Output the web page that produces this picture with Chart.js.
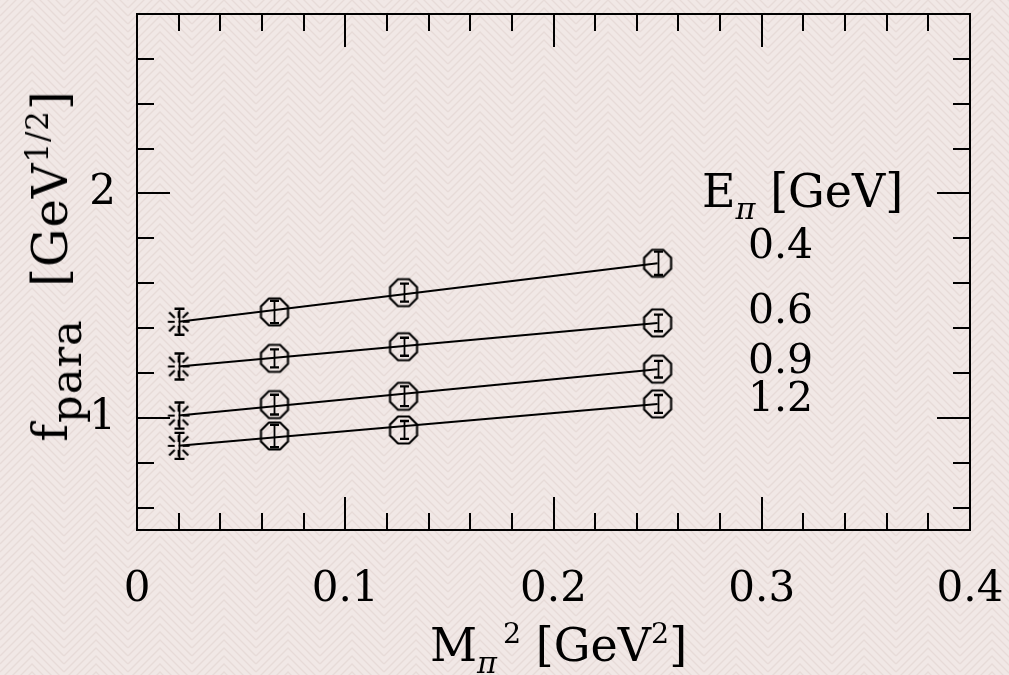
<!DOCTYPE html>
<html>
<head>
<meta charset="utf-8">
<script src="https://cdn.jsdelivr.net/npm/chart.js@4.4.1/dist/chart.umd.min.js"></script>
<style>
  html, body { margin: 0; padding: 0; }
  body {
    width: 1009px; height: 675px; overflow: hidden;
    background-color: #f1e8e6;
    background-image: url("data:image/svg+xml,%3Csvg xmlns='http://www.w3.org/2000/svg' width='64' height='32'%3E%3Cg fill='none' stroke='%23e7dbd8' stroke-width='1.4'%3E%3Cpath d='M0 0 L32 -32 L64 0'/%3E%3Cpath d='M0 8 L32 -24 L64 8'/%3E%3Cpath d='M0 16 L32 -16 L64 16'/%3E%3Cpath d='M0 24 L32 -8 L64 24'/%3E%3Cpath d='M0 32 L32 0 L64 32'/%3E%3Cpath d='M0 40 L32 8 L64 40'/%3E%3Cpath d='M0 48 L32 16 L64 48'/%3E%3Cpath d='M0 56 L32 24 L64 56'/%3E%3Cpath d='M0 64 L32 32 L64 64'/%3E%3C/g%3E%3C/svg%3E");
  }
  #wrap { position: relative; width: 1009px; height: 675px; }
  #plot { position: absolute; left: 0; top: 0; }
  .lbl {
    position: absolute; font-family: 'DejaVu Serif', serif; color: #000;
    line-height: 1; white-space: nowrap;
  }
  .lbl sub { font-size: 0.66em; vertical-align: -0.4em; line-height: 0; }
  .lbl sup { font-size: 0.62em; vertical-align: 0.62em; line-height: 0; }
  #ytitle { letter-spacing: 1px; }
  #ytitle sub { font-size: 0.9em; vertical-align: -0.32em; }
  #ytitle sup { font-size: 0.64em; }
  #xtitle sup.sq { margin-left: 6px; }
</style>
</head>
<body>
<div id="wrap">
  <canvas id="plot" width="1009" height="675"></canvas>
  <div class="lbl" id="ytitle" style="left:50px; top:266px; font-size:48px; transform:translate(-50%,-50%) rotate(-90deg);">f<sub>para</sub>&nbsp;&nbsp;[GeV<sup>1/2</sup>]</div>
  <div class="lbl" id="xtitle" style="left:430px; top:622px; font-size:46px;">M<sub><i>π</i></sub><sup class="sq">2</sup> [GeV<sup>2</sup>]</div>
  <div class="lbl" id="etitle" style="left:702px; top:168px; font-size:46px;">E<sub><i>π</i></sub> [GeV]</div>
  <div id="elabels"></div>
</div>
<script>
// Pion mass squared [GeV^2] of the lattice ensembles and the physical point
const xLattice = [0.066, 0.128, 0.250];
const xPhysical = 0.020;

// Pion energies [GeV] labelling each curve
const energyLabels = ['0.4', '0.6', '0.9', '1.2'];
const energyLabelY = [245, 310, 360, 398];

// f_para [GeV^(1/2)] at each lattice mass, one array per pion energy
const fParaE04 = [1.472, 1.558, 1.689];
const fParaE06 = [1.265, 1.317, 1.423];
const fParaE09 = [1.059, 1.096, 1.217];
const fParaE12 = [0.919, 0.946, 1.062];

const errE04 = [0.050, 0.040, 0.052];
const errE06 = [0.040, 0.040, 0.037];
const errE09 = [0.044, 0.044, 0.037];
const errE12 = [0.050, 0.040, 0.040];

// Chiral extrapolation to the physical pion mass
const fParaPhysical = [1.428, 1.229, 1.010, 0.875];
const errPhysical = [0.058, 0.058, 0.058, 0.058];

// Axis ticks
const xTickValues = [0, 0.02, 0.04, 0.06, 0.08, 0.1, 0.12, 0.14, 0.16, 0.18, 0.2,
                     0.22, 0.24, 0.26, 0.28, 0.3, 0.32, 0.34, 0.36, 0.38, 0.4];
const xMajorValues = [0, 0.1, 0.2, 0.3, 0.4];
const xMajorLabels = ['0', '0.1', '0.2', '0.3', '0.4'];
const yTickValues = [0.6, 0.8, 1.0, 1.2, 1.4, 1.6, 1.8, 2.0, 2.2, 2.4, 2.6];
const yMajorValues = [1, 2];
const yMajorLabels = ['1', '2'];

const seriesValues = [fParaE04, fParaE06, fParaE09, fParaE12];
const seriesErrors = [errE04, errE06, errE09, errE12];

// Marker images
function makeOctagon(apothem, lw) {
  const R = apothem / Math.cos(Math.PI / 8);
  const size = Math.ceil(2 * R + lw + 2);
  const c = document.createElement('canvas');
  c.width = c.height = size;
  const g = c.getContext('2d');
  g.translate(size / 2, size / 2);
  g.beginPath();
  for (let k = 0; k < 8; k++) {
    const a = Math.PI / 8 + k * Math.PI / 4;
    const px = R * Math.cos(a), py = R * Math.sin(a);
    if (k === 0) g.moveTo(px, py); else g.lineTo(px, py);
  }
  g.closePath();
  g.lineWidth = lw;
  g.strokeStyle = '#000';
  g.stroke();
  return c;
}

function makeBurst(inner, outer, lw) {
  const size = Math.ceil(2 * outer + lw + 2);
  const c = document.createElement('canvas');
  c.width = c.height = size;
  const g = c.getContext('2d');
  g.translate(size / 2, size / 2);
  g.lineWidth = lw;
  g.strokeStyle = '#000';
  g.beginPath();
  for (let k = 0; k < 8; k++) {
    const a = k * Math.PI / 4;
    const diag = k % 2 === 1;
    const ri = diag ? inner * 1.4 : inner;
    const ro = diag ? outer : outer * 0.8;
    g.moveTo(ri * Math.cos(a), ri * Math.sin(a));
    g.lineTo(ro * Math.cos(a), ro * Math.sin(a));
  }
  g.stroke();
  return c;
}

const octagon = makeOctagon(13.5, 2.2);
const burst = makeBurst(4, 13.5, 2.2);

const datasets = [];

// Lattice points (octagons with error bars)
seriesValues.forEach((vals, s) => {
  datasets.push({
    label: 'E = ' + energyLabels[s] + ' GeV',
    data: xLattice.map((x, i) => ({ x: x, y: vals[i] })),
    yErr: seriesErrors[s],
    capHalf: 4.5,
    pointStyle: octagon,
    pointRadius: 13,
    showLine: false,
    order: 0
  });
});

// Extrapolated values at the physical point
datasets.push({
  label: 'physical point',
  data: fParaPhysical.map(v => ({ x: xPhysical, y: v })),
  yErr: errPhysical,
  capHalf: 5,
  pointStyle: burst,
  pointRadius: 13,
  showLine: false,
  order: 0
});

// Linear fits from the physical point through the lattice data
seriesValues.forEach((vals, s) => {
  datasets.push({
    label: 'fit ' + energyLabels[s],
    data: [
      { x: xPhysical, y: fParaPhysical[s] },
      { x: xLattice[xLattice.length - 1], y: vals[vals.length - 1] }
    ],
    showLine: true,
    borderColor: '#000',
    borderWidth: 2,
    pointRadius: 0,
    fill: false,
    order: 1
  });
});

const errorBars = {
  id: 'errorBars',
  afterDatasetsDraw(chart) {
    const { ctx, scales: { x, y } } = chart;
    ctx.save();
    ctx.strokeStyle = '#000';
    chart.data.datasets.forEach(ds => {
      if (!ds.yErr) return;
      ds.data.forEach((p, i) => {
        const px = Math.round(x.getPixelForValue(p.x)) + 0.5;
        const top = y.getPixelForValue(p.y + ds.yErr[i]);
        const bot = y.getPixelForValue(p.y - ds.yErr[i]);
        ctx.lineWidth = 1.8;
        ctx.beginPath();
        ctx.moveTo(px, top);
        ctx.lineTo(px, bot);
        ctx.stroke();
        ctx.lineWidth = 2.4;
        ctx.beginPath();
        ctx.moveTo(px - ds.capHalf, top);
        ctx.lineTo(px + ds.capHalf, top);
        ctx.moveTo(px - ds.capHalf, bot);
        ctx.lineTo(px + ds.capHalf, bot);
        ctx.stroke();
      });
    });
    ctx.restore();
  }
};

// Box frame with inward tick marks on all four sides
const frame = {
  id: 'frame',
  afterDraw(chart) {
    const { ctx, chartArea: a, scales: { x, y } } = chart;
    const isMajor = (list, v) => list.some(m => Math.abs(m - v) < 1e-9);
    ctx.save();
    ctx.strokeStyle = '#000';
    ctx.lineWidth = 2;
    ctx.beginPath();
    x.ticks.forEach(t => {
      const len = isMajor(xMajorValues, t.value) ? 33 : 17;
      const px = Math.round(x.getPixelForValue(t.value));
      ctx.moveTo(px, a.bottom); ctx.lineTo(px, a.bottom - len);
      ctx.moveTo(px, a.top); ctx.lineTo(px, a.top + len);
    });
    y.ticks.forEach(t => {
      const len = isMajor(yMajorValues, t.value) ? 33 : 17;
      const py = Math.round(y.getPixelForValue(t.value));
      ctx.moveTo(a.left, py); ctx.lineTo(a.left + len, py);
      ctx.moveTo(a.right, py); ctx.lineTo(a.right - len, py);
    });
    ctx.stroke();
    ctx.strokeRect(a.left, a.top, a.right - a.left, a.bottom - a.top);
    ctx.restore();
  }
};

// Keep the plot box fixed: scales take exact sizes and request no extra padding
function fixScale(size, key) {
  return s => {
    s[key] = size;
    s.paddingTop = 0; s.paddingBottom = 0; s.paddingLeft = 0; s.paddingRight = 0;
  };
}

Chart.defaults.font.family = "'DejaVu Serif', serif";
Chart.defaults.color = '#000';

new Chart(document.getElementById('plot'), {
  type: 'scatter',
  data: { datasets: datasets },
  options: {
    responsive: false,
    animation: false,
    layout: { padding: { left: 0, right: 39, top: 8, bottom: 0 } },
    plugins: { legend: { display: false }, tooltip: { enabled: false } },
    scales: {
      x: {
        type: 'linear', min: 0, max: 0.4,
        afterBuildTicks: s => { s.ticks = xTickValues.map(v => ({ value: v })); },
        afterFit: fixScale(145, 'height'),
        grid: { display: false },
        border: { display: false },
        ticks: {
          autoSkip: false, maxRotation: 0, minRotation: 0, padding: 27,
          font: { size: 42 },
          callback: v => {
            const i = xMajorValues.findIndex(m => Math.abs(m - v) < 1e-9);
            return i >= 0 ? xMajorLabels[i] : '';
          }
        }
      },
      y: {
        type: 'linear', min: 0.5, max: 2.8,
        afterBuildTicks: s => { s.ticks = yTickValues.map(v => ({ value: v })); },
        afterFit: fixScale(137, 'width'),
        grid: { display: false },
        border: { display: false },
        ticks: {
          autoSkip: false, padding: 13,
          font: { size: 42 },
          callback: v => {
            const i = yMajorValues.findIndex(m => Math.abs(m - v) < 1e-9);
            return i >= 0 ? yMajorLabels[i] : '';
          }
        }
      }
    }
  },
  plugins: [errorBars, frame]
});

// Energy labels beside the curves
const holder = document.getElementById('elabels');
energyLabels.forEach((t, i) => {
  const d = document.createElement('div');
  d.className = 'lbl';
  d.style.left = '748px';
  d.style.top = (energyLabelY[i] - 21) + 'px';
  d.style.fontSize = '41px';
  d.textContent = t;
  holder.appendChild(d);
});
</script>
</body>
</html>
